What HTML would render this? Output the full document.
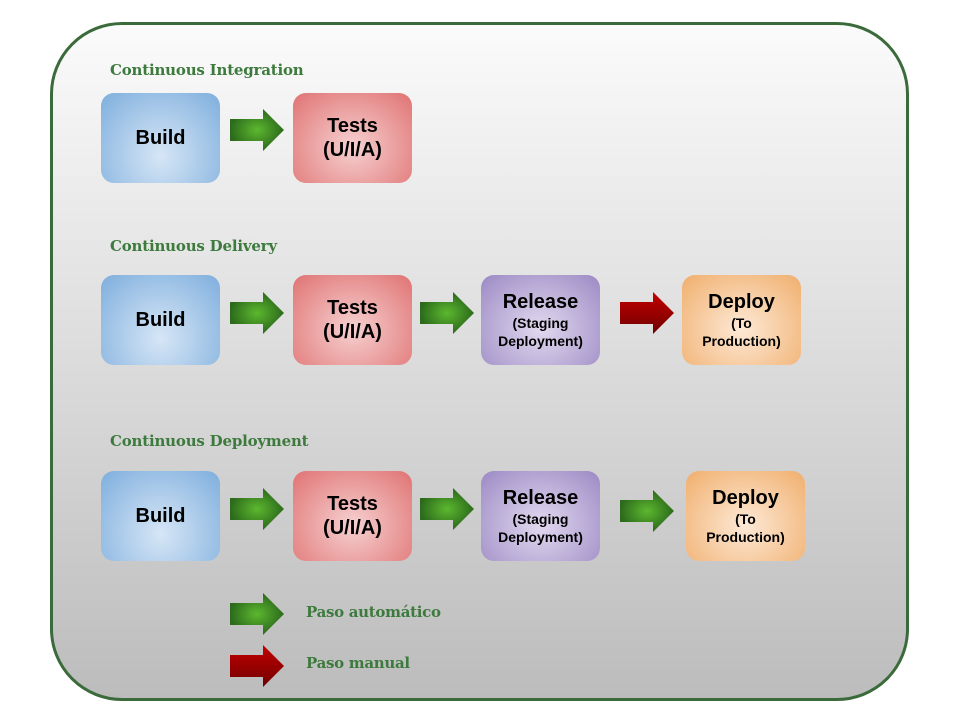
<!DOCTYPE html>
<html><head><meta charset="utf-8"><style>
body{margin:0;width:960px;height:720px;background:#fff;position:relative;overflow:hidden;font-family:"Liberation Sans",sans-serif}
.frame{position:absolute;left:50px;top:22px;width:853px;height:673px;border:3px solid #3b6b3b;border-radius:72px;background:linear-gradient(#fbfbfb,#bcbcbc)}
.t{position:absolute;left:110px;font-family:"DejaVu Serif","Liberation Serif",serif;font-weight:bold;color:#3d7a3d;font-size:15px;letter-spacing:-0.2px}
.b{position:absolute;width:119px;height:90px;border-radius:13px;display:flex;flex-direction:column;align-items:center;justify-content:center;font-weight:bold;color:#000;text-align:center;box-sizing:border-box}
.b .m{font-size:20px;line-height:24px}
.b .s{font-size:14px;line-height:18px}
.bl{background:radial-gradient(ellipse at 50% 70%,#d6e6f6,#7eaedd)}
.rd{background:radial-gradient(ellipse at 50% 60%,#f6d0d0,#e07272)}
.pu{background:radial-gradient(ellipse at 50% 60%,#e2d9ef,#9b89c4)}
.or{background:radial-gradient(ellipse at 50% 60%,#fde9d6,#f0ae6c)}
svg.a{position:absolute;width:54px;height:42px}
.l{position:absolute;left:306px;font-family:"DejaVu Serif","Liberation Serif",serif;font-weight:bold;color:#3d7a3d;font-size:15px;letter-spacing:-0.3px}
</style></head><body>
<svg width="0" height="0" style="position:absolute"><defs>
<radialGradient id="g"><stop offset="0" stop-color="#5cb82e"/><stop offset="1" stop-color="#2c6a1c"/></radialGradient>
<linearGradient id="r" x1="0" y1="0" x2="0" y2="1"><stop offset="0" stop-color="#c40000"/><stop offset="1" stop-color="#6e0000"/></linearGradient>
</defs></svg>
<div class="frame"></div>
<div class="t" style="top:61px">Continuous Integration</div>
<div class="t" style="top:237px">Continuous Delivery</div>
<div class="t" style="top:432px">Continuous Deployment</div>

<div class="b bl" style="left:101px;top:93px"><div class="m">Build</div></div>
<svg class="a" style="left:230px;top:109px" viewBox="0 0 54 42"><path d="M0 10H33V0L54 21L33 42V32H0Z" fill="url(#g)"/></svg>
<div class="b rd" style="left:293px;top:93px"><div class="m">Tests<br>(U/I/A)</div></div>

<div class="b bl" style="left:101px;top:275px"><div class="m">Build</div></div>
<svg class="a" style="left:230px;top:292px" viewBox="0 0 54 42"><path d="M0 10H33V0L54 21L33 42V32H0Z" fill="url(#g)"/></svg>
<div class="b rd" style="left:293px;top:275px"><div class="m">Tests<br>(U/I/A)</div></div>
<svg class="a" style="left:420px;top:292px" viewBox="0 0 54 42"><path d="M0 10H33V0L54 21L33 42V32H0Z" fill="url(#g)"/></svg>
<div class="b pu" style="left:481px;top:275px"><div class="m">Release</div><div class="s">(Staging<br>Deployment)</div></div>
<svg class="a" style="left:620px;top:292px" viewBox="0 0 54 42"><path d="M0 10H33V0L54 21L33 42V32H0Z" fill="url(#r)"/></svg>
<div class="b or" style="left:682px;top:275px"><div class="m">Deploy</div><div class="s">(To<br>Production)</div></div>

<div class="b bl" style="left:101px;top:471px"><div class="m">Build</div></div>
<svg class="a" style="left:230px;top:488px" viewBox="0 0 54 42"><path d="M0 10H33V0L54 21L33 42V32H0Z" fill="url(#g)"/></svg>
<div class="b rd" style="left:293px;top:471px"><div class="m">Tests<br>(U/I/A)</div></div>
<svg class="a" style="left:420px;top:488px" viewBox="0 0 54 42"><path d="M0 10H33V0L54 21L33 42V32H0Z" fill="url(#g)"/></svg>
<div class="b pu" style="left:481px;top:471px"><div class="m">Release</div><div class="s">(Staging<br>Deployment)</div></div>
<svg class="a" style="left:620px;top:490px" viewBox="0 0 54 42"><path d="M0 10H33V0L54 21L33 42V32H0Z" fill="url(#g)"/></svg>
<div class="b or" style="left:686px;top:471px"><div class="m">Deploy</div><div class="s">(To<br>Production)</div></div>

<svg class="a" style="left:230px;top:593px" viewBox="0 0 54 42"><path d="M0 10H33V0L54 21L33 42V32H0Z" fill="url(#g)"/></svg>
<div class="l" style="top:603px">Paso automático</div>
<svg class="a" style="left:230px;top:645px" viewBox="0 0 54 42"><path d="M0 10H33V0L54 21L33 42V32H0Z" fill="url(#r)"/></svg>
<div class="l" style="top:654px">Paso manual</div>
</body></html>
